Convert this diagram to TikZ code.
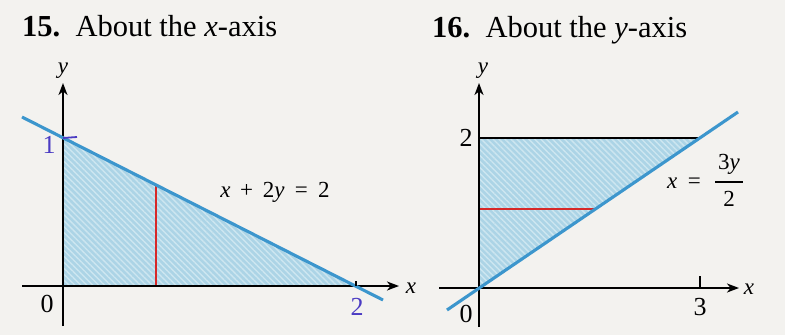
\documentclass[tikz,border=0pt]{standalone}
\usepackage{fontspec}
\setmainfont{Liberation Serif}
\usetikzlibrary{arrows.meta,patterns.meta}
\definecolor{bg}{RGB}{243,242,239}
\definecolor{bline}{RGB}{60,150,205}
\definecolor{shade}{RGB}{172,212,230}
\definecolor{stripe}{RGB}{205,230,240}
\definecolor{rline}{RGB}{215,40,40}
\definecolor{lblue}{RGB}{75,60,195}
\tikzset{
  axis/.style={line width=1.6pt, black, -{Stealth[length=12pt,width=9pt,inset=3.5pt]}},
  curve/.style={line width=3.1pt, bline},
  strip/.style={line width=2.2pt, rline},
  region/.style={fill=shade, draw=none},
  hatch/.style={pattern={Lines[angle=-45,distance=4.2pt,line width=1.4pt]}, pattern color=stripe},
  lbl/.style={inner sep=0pt, font=\fontsize{26}{30}\selectfont},
  var/.style={inner sep=0pt, font=\fontsize{23}{27}\selectfont},
  ttl/.style={inner sep=0pt, anchor=base west, font=\fontsize{30.5}{36}\selectfont},
}
\begin{document}
\begin{tikzpicture}[x=1pt,y=-1pt]
\fill[bg] (0,0) rectangle (785,335);
\useasboundingbox (0,0) rectangle (785,335);

% titles
\node[ttl] (t15) at (22,36) {\textbf{15.}\ \ About the \textit{x}-axis};
\node[ttl] (t16) at (432,37) {\textbf{16.}\ \ About the \textit{y}-axis};

% ---------- left panel ----------
\coordinate (O1) at (63,286);
\coordinate (X1a) at (22,286);
\coordinate (X1b) at (399,286);
\coordinate (Y1a) at (63,326);
\coordinate (Y1b) at (63,83);
\coordinate (A1) at (356,286);
\coordinate (B1) at (63,138);
\coordinate (L1a) at (22,117);
\coordinate (L1b) at (383,300);
\coordinate (R1a) at (156,286);
\coordinate (R1b) at (156,185);
\coordinate (T1a) at (77,137);
\coordinate (T2a) at (356,281);

\fill[region] (O1) -- (A1) -- (B1) -- cycle;
\fill[hatch] (O1) -- (A1) -- (B1) -- cycle;
\draw[strip] (R1a) -- (R1b);
\draw[line width=1.6pt, rline!70!black] (O1) -- (R1a);
\draw[axis] (X1a) -- (X1b);
\draw[axis] (Y1a) -- (Y1b);
\draw[curve] (L1a) -- (L1b);
\draw[line width=1.8pt, lblue] (B1) -- (T1a);
\draw[line width=1.2pt, black] (A1) -- (T2a);

\node[var] (x1) at (411,288) {\textit{x}};
\node[var] (y1) at (63,71) {\textit{y}};
\node[lbl] (o1) at (47,304) {0};
\node[lbl, lblue] (one) at (49,145) {1};
\node[lbl, lblue] (two1) at (357,307) {2};
\node[var] (eq1) at (275,192) {\textit{x}\hspace{0.42em}+\hspace{0.42em}2\textit{y}\hspace{0.45em}=\hspace{0.45em}2};

% ---------- right panel ----------
\coordinate (O2) at (479,288);
\coordinate (X2a) at (439,288);
\coordinate (X2b) at (739,288);
\coordinate (Y2a) at (479,327);
\coordinate (Y2b) at (479,83);
\coordinate (A2) at (700,138);
\coordinate (B2) at (479,138);
\coordinate (L2a) at (447,310);
\coordinate (L2b) at (738,112);
\coordinate (R2a) at (479,209);
\coordinate (R2b) at (595,209);
\coordinate (T3) at (700,288);
\coordinate (T3a) at (700,276);

\fill[region] (O2) -- (A2) -- (B2) -- cycle;
\fill[hatch] (O2) -- (A2) -- (B2) -- cycle;
\draw[line width=1.5pt, black] (B2) -- (A2);
\draw[strip] (R2a) -- (R2b);
\draw[axis] (X2a) -- (X2b);
\draw[axis] (Y2a) -- (Y2b);
\draw[curve] (L2a) -- (L2b);
\draw[line width=1.2pt, black] (T3) -- (T3a);

\node[var] (x2) at (749,289) {\textit{x}};
\node[var] (y2) at (483,71) {\textit{y}};
\node[lbl] (o2) at (466,314) {0};
\node[lbl] (two2) at (466,138) {2};
\node[lbl] (three) at (700,307) {3};
\node[var] (xeq) at (684,183) {\textit{x}\hspace{0.45em}=};
\node[var] (num) at (729,164) {3\textit{y}};
\node[var] (den) at (729,199) {2};
\draw[line width=1.4pt, black] (715,182) -- (743,182);
\end{tikzpicture}
\end{document}
